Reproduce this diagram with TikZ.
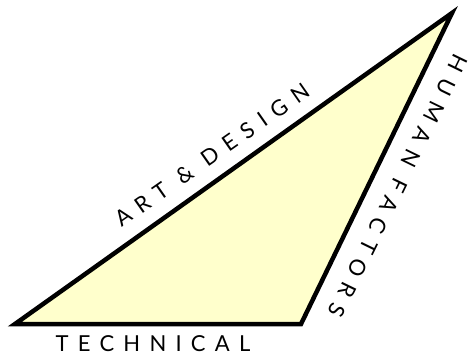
\documentclass[tikz,border=0pt]{standalone}
\usepackage{fontspec}
\setmainfont{Lato}
\definecolor{paleyellow}{RGB}{255,255,204}

\begin{document}
\begin{tikzpicture}[x=1pt, y=-1pt,
  wedge/.style={draw=black, line width=4.5pt, fill=paleyellow},
  sidelabel/.style={inner sep=0pt,
    font=\fontsize{22}{24}\selectfont\addfontfeature{LetterSpace=42}}]

  \useasboundingbox (0,0) rectangle (472,362);

  % corners of the triangle
  \coordinate (left)  at (15,324);
  \coordinate (right) at (301,324);
  \coordinate (apex)  at (452,13);

  \draw[wedge] (left) -- (right) -- (apex) -- cycle;

  % labels along the three sides
  \node[sidelabel] (tech)  at (153,344) {TECHNICAL};
  \node[sidelabel, rotate=35] (art) at (212,155) {ART \& DESIGN};
  \node[sidelabel, rotate=-116] (human) at (398,186) {HUMAN FACTORS};

\end{tikzpicture}
\end{document}
